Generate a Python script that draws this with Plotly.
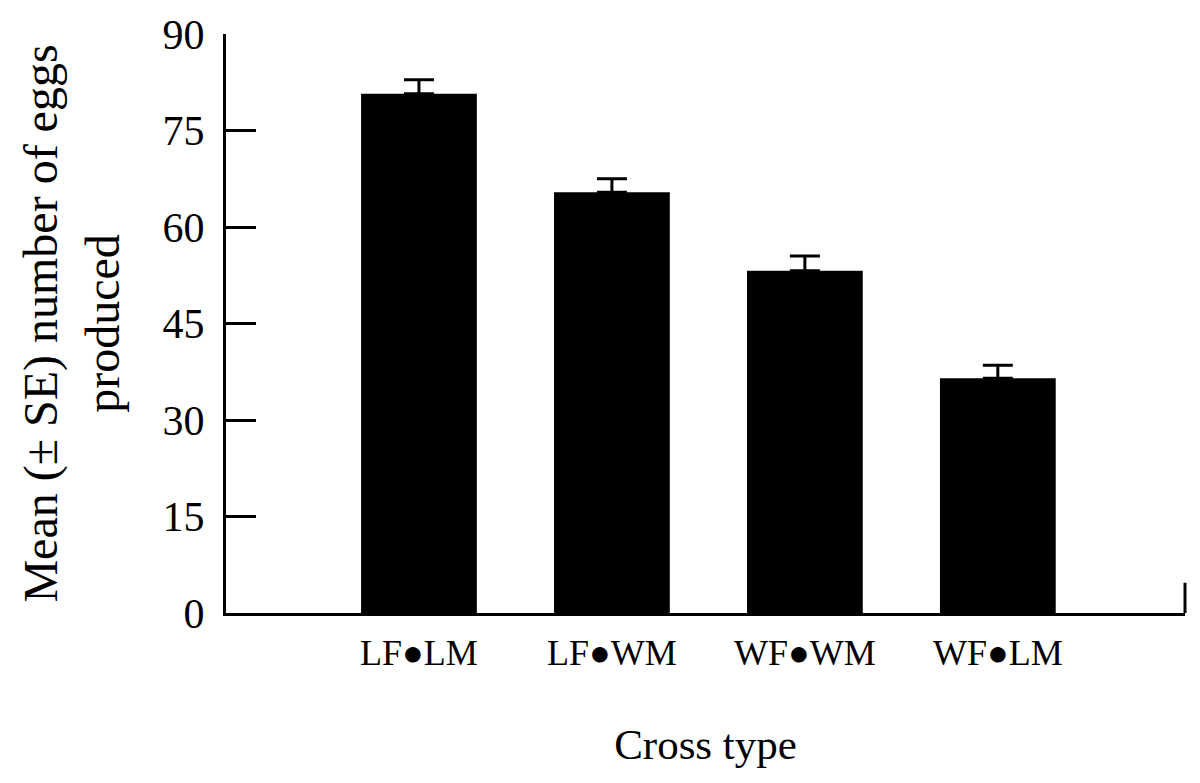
import plotly.graph_objects as go

# data
cross_types = ["LF●LM", "LF●WM", "WF●WM", "WF●LM"]
mean_eggs = [80.7, 65.4, 53.2, 36.5]
se_eggs = [2.2, 2.1, 2.3, 2.0]
y_ticks = [0, 15, 30, 45, 60, 75, 90]

font_family = "Liberation Serif, Times New Roman, serif"

fig = go.Figure()
fig.add_trace(go.Bar(
    x=cross_types,
    y=mean_eggs,
    width=0.6,
    marker=dict(color="black", line=dict(width=0)),
    error_y=dict(type="data", symmetric=False, array=se_eggs,
                 arrayminus=[0] * len(se_eggs),
                 color="black", thickness=3, width=15),
))

# small inward tick at the right end of the x axis
fig.add_shape(type="line", xref="paper", yref="y", x0=1, x1=1, y0=0, y1=4.7,
              line=dict(color="black", width=3))

fig.update_layout(
    width=1200, height=783,
    margin=dict(l=218, r=23, t=26, b=178),
    plot_bgcolor="white", paper_bgcolor="white",
    font=dict(family=font_family, color="black"),
    showlegend=False,
    bargap=0.4,
)
fig.update_xaxes(
    type="category",
    range=[-1.0, 3.97],
    automargin=False,
    showline=True, linecolor="black", linewidth=3,
    ticks="", showgrid=False,
    tickfont=dict(size=36),
    ticklabelstandoff=6,
    title=dict(text="Cross type", font=dict(size=43), standoff=57),
)
fig.update_yaxes(
    range=[0, 90],
    tickvals=y_ticks,
    automargin=False,
    showline=True, linecolor="black", linewidth=3,
    ticks="inside", ticklen=30, tickwidth=3, tickcolor="black",
    showgrid=False, zeroline=False,
    tickfont=dict(size=42),
    ticklabelstandoff=10,
    title=dict(text="Mean (± SE) number of eggs<br>produced", font=dict(size=48), standoff=28),
)

fig.write_html("out.html")
